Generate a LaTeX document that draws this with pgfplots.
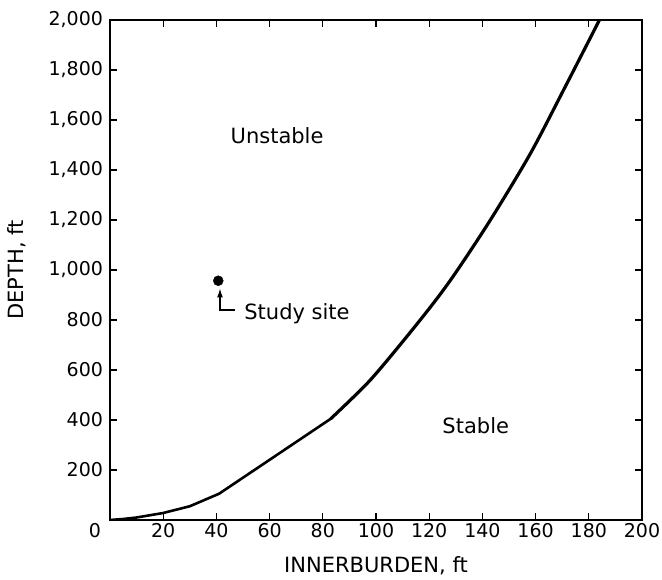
\documentclass[border=0pt]{standalone}
\usepackage{fontspec}
\setmainfont{DejaVu Sans}
\usepackage{pgfplots}
\usepackage{pgfplotstable}
\pgfplotsset{compat=1.18}
\usetikzlibrary{arrows.meta}
\pgfplotstableread{
x y
0 0
5 4
10 10
20 28
30 55
41 105
83 405
}\lowcurve
\pgfplotstableread{
x y
83 405
97 550
109 700
121.5 866
130 990
143 1200
158 1465
171 1730
184 2000
}\highcurve
\begin{document}
\begin{tikzpicture}[x=1pt,y=1pt]
\begin{axis}[
  at={(0,0)}, anchor=south west,
  scale only axis, width=532pt, height=500pt,
  xmin=0, xmax=200, ymin=0, ymax=2000,
  xtick={0,20,...,200},
  xticklabels={\llap{0\hspace{9pt}},20,40,60,80,100,120,140,160,180,200},
  ytick={200,400,...,2000},
  tick align=inside,
  major tick length=7pt,
  tick style={line width=1.2pt, black},
  axis line style={line width=1.5pt},
  /pgf/number format/assume math mode=true,
  /pgf/number format/1000 sep={,},
  tick label style={font=\fontsize{19}{22}\selectfont},
  yticklabel style={xshift=-3.5pt},
  label style={font=\fontsize{21}{25}\selectfont},
  xlabel={INNERBURDEN, ft},
  ylabel={DEPTH, ft},
  xlabel style={at={(axis description cs:0.5,-0.092)}, anchor=center},
  ylabel style={at={(axis description cs:-0.175,0.5)}, anchor=center},
]
\draw[line width=3pt] (rel axis cs:0,0) -- (rel axis cs:0,1);
\draw[line width=2.5pt] (rel axis cs:0,0) -- (rel axis cs:1,0);
\addplot[black, line width=2.6pt, line join=round, line cap=round] table {\lowcurve};
\addplot[black, line width=3.2pt, smooth, tension=0.5, line cap=round] table {\highcurve};
\addplot[only marks, mark=*, mark size=5pt, black] coordinates {(40.7,957)};
\draw[line width=1.2pt, -{Latex[length=9pt,width=6pt]}] (axis cs:47,840) -- (axis cs:41.35,840) -- (axis cs:41.35,926);
\node[font=\fontsize{21}{25}\selectfont, anchor=base west] at (axis cs:49.2,800) {Study site};
\node[font=\fontsize{21}{25}\selectfont] at (axis cs:62.8,1536) {Unstable};
\node[font=\fontsize{21}{25}\selectfont] at (axis cs:137.5,376) {Stable};
\end{axis}
\pgfresetboundingbox
\path (-110,-60) rectangle (552,520);
\end{tikzpicture}
\end{document}
